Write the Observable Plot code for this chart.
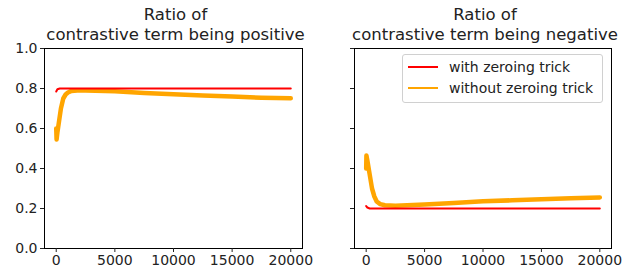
<!DOCTYPE html>
<html><head><meta charset="utf-8">
<script src="https://cdn.jsdelivr.net/npm/d3@7"></script>
<script src="https://cdn.jsdelivr.net/npm/@observablehq/plot@0.6"></script>
<style>
body{margin:0;background:#fff;}
#wrap{position:relative;width:626px;height:275px;font-family:"DejaVu Sans",sans-serif;overflow:hidden;}
.panel{position:absolute;top:0;}
.legend{position:absolute;left:402px;top:54px;width:199px;height:47px;border:1px solid #d0d0d0;border-radius:3px;background:rgba(255,255,255,0.8);font-size:14px;color:#222;}
.row{position:absolute;left:0;height:20px;width:199px;}
.row .sw{position:absolute;left:5px;width:30px;height:2px;}
.row span{position:absolute;left:46px;white-space:nowrap;line-height:16px;}
</style>
</head><body>
<div id="wrap"></div>
<script>
// Panel titles
const titles = ["Ratio of\ncontrastive term being positive", "Ratio of\ncontrastive term being negative"];
const legendLabels = ["with zeroing trick", "without zeroing trick"];
const colors = ["#ff0000", "#ffa500"];
const xTicks = [0, 5000, 10000, 15000, 20000];
const yTicks = [0, 0.2, 0.4, 0.6, 0.8, 1.0];

// Left panel: ratio positive
const posWithX = [0, 100, 300, 20000];
const posWithY = [0.785, 0.796, 0.800, 0.800];
const posWithoutX = [0, 30, 100, 250, 400, 600, 800, 1000, 1300, 1800, 2500, 5000, 7500, 10000, 12500, 15000, 17500, 20000];
const posWithoutY = [0.60, 0.545, 0.58, 0.64, 0.70, 0.75, 0.77, 0.78, 0.788, 0.79, 0.79, 0.786, 0.778, 0.771, 0.765, 0.760, 0.754, 0.751];

// Right panel: ratio negative
const negWithX = [0, 100, 300, 20000];
const negWithY = [0.212, 0.205, 0.200, 0.200];
const negWithoutX = [0, 20, 100, 300, 500, 700, 900, 1200, 1600, 2500, 5000, 7500, 10000, 12500, 15000, 17500, 20000];
const negWithoutY = [0.40, 0.465, 0.44, 0.37, 0.30, 0.26, 0.235, 0.222, 0.216, 0.214, 0.220, 0.228, 0.236, 0.241, 0.246, 0.251, 0.255];

const zip = (xs, ys) => xs.map((x, i) => ({x, y: ys[i]}));

function panel(title, withData, withoutData, showY, width, ml, mr) {
  return Plot.plot({
    width, height: 275,
    marginLeft: ml, marginRight: mr, marginTop: 48, marginBottom: 27,
    style: {fontFamily: "DejaVu Sans, sans-serif", fontSize: "14px", color: "#222", background: "white", overflow: "visible"},
    x: {domain: [-1000, 21000]},
    y: {domain: [0, 1]},
    marks: [
      Plot.line(withoutData, {x: "x", y: "y", stroke: colors[1], strokeWidth: 4.5}),
      Plot.line(withData, {x: "x", y: "y", stroke: colors[0], strokeWidth: 2}),
      Plot.frame({stroke: "#000", strokeWidth: 1}),
      Plot.axisX({ticks: xTicks, tickSize: 4, tickPadding: 3, tickFormat: d3.format("d"), label: null, fill: "#222"}),
      Plot.axisY({ticks: yTicks, tickSize: 4, tickPadding: 3, tickFormat: showY ? d3.format(".1f") : () => "", label: null, fill: "#222"}),
      Plot.text([title], {frameAnchor: "top", lineAnchor: "bottom", dy: -9, dx: 2, fontSize: 16.5, fill: "#222", lineHeight: 1.17})
    ]
  });
}

const wrap = document.getElementById("wrap");
const p1 = panel(titles[0], zip(posWithX, posWithY), zip(posWithoutX, posWithoutY), true, 313, 44, 11);
const d1 = document.createElement("div"); d1.className = "panel"; d1.style.left = "0px"; d1.appendChild(p1); wrap.appendChild(d1);
const p2 = panel(titles[1], zip(negWithX, negWithY), zip(negWithoutX, negWithoutY), false, 313, 41, 15);
const d2 = document.createElement("div"); d2.className = "panel"; d2.style.left = "313px"; d2.appendChild(p2); wrap.appendChild(d2);

const lg = document.createElement("div"); lg.className = "legend";
legendLabels.forEach((lab, i) => {
  const r = document.createElement("div"); r.className = "row"; r.style.top = (i === 0 ? 3 : 24) + "px";
  const sw = document.createElement("div"); sw.className = "sw"; sw.style.background = colors[i]; sw.style.top = "8px";
  const sp = document.createElement("span"); sp.textContent = lab; sp.style.top = "1px";
  r.appendChild(sw); r.appendChild(sp); lg.appendChild(r);
});
wrap.appendChild(lg);
</script>
</body></html>
